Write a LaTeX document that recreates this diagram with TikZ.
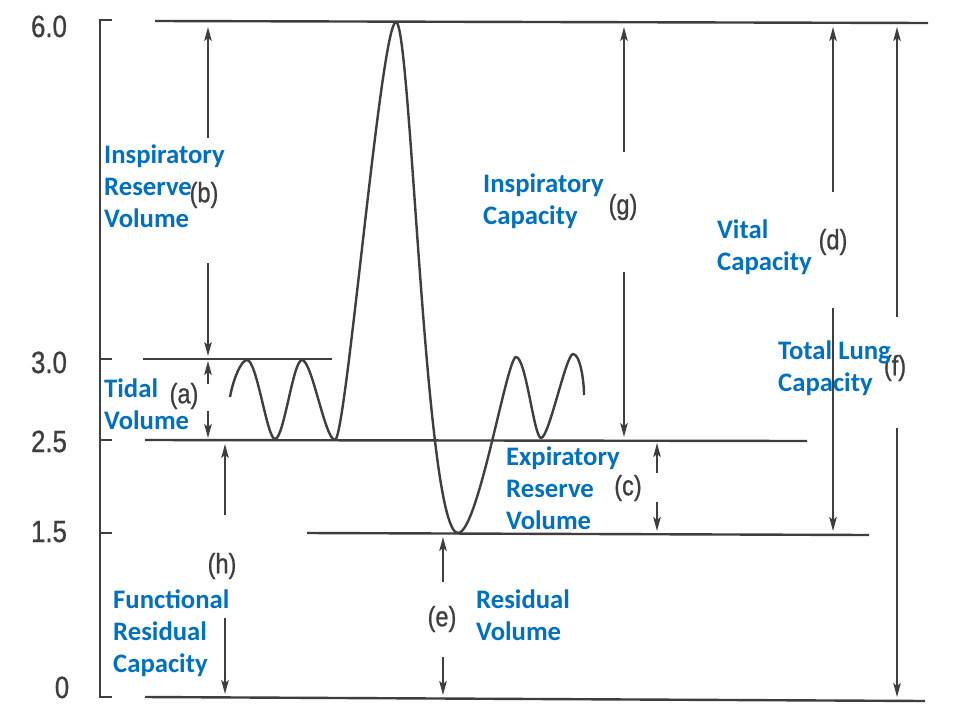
\documentclass[tikz,border=0pt]{standalone}
\usepackage{fontspec}
\newfontfamily\lblfont{Carlito}
\newfontfamily\grayfont{Liberation Sans}[FakeStretch=0.84,FakeBold=0.8]
\usetikzlibrary{arrows.meta}
\definecolor{lblblue}{RGB}{0,112,192}
\definecolor{ink}{RGB}{62,62,62}
\newcommand\mystack[1]{\begin{tabular}[t]{@{}l@{}}#1\end{tabular}}
\begin{document}
\begin{tikzpicture}[x=1pt,y=-1pt,
  curve/.style={draw=ink,line width=2.4pt,line join=round},
  level/.style={draw=ink,line width=2.4pt},
  dim/.style={draw=ink,line width=1.7pt,-{Stealth[length=14pt,width=7.5pt,inset=3pt]}},
  lbl/.style={text=lblblue,font=\lblfont\bfseries\fontsize{26.7}{32}\selectfont,anchor=base west,inner sep=0pt},
  tag/.style={text=ink,font=\grayfont\fontsize{28}{30}\selectfont,inner sep=0pt},
  num/.style={text=ink,font=\grayfont\fontsize{30.7}{32}\selectfont,inner sep=0pt,anchor=base}]
\useasboundingbox[fill=white] (0,0) rectangle (960,720);

% axis with ticks
\draw[level] (112,20) -- (100,20) -- (100,697) -- (112,697);
\draw[level] (100,359) -- (112,359);
\draw[level] (100,440) -- (112,440);
\draw[level] (100,533) -- (112,533);

% axis numbers
\node[num] (n60) at (49,37) {6.0};
\node[num] (n30) at (49,373) {3.0};
\node[num] (n25) at (49,452) {2.5};
\node[num] (n15) at (49,542) {1.5};
\node[num] (n00) at (62,698) {0};

% level lines
\draw[level] (155,21) -- (928,23);
\draw[level] (143,359) -- (332,359);
\draw[level] (145,440) -- (807,441);
\draw[level] (307,533) -- (869,535);
\draw[level] (145,697) -- (925,701);

% spirogram trace
\draw[curve] (230,397) .. controls (233,380) and (241,360) .. (247,360)
  .. controls (257,360) and (267,439) .. (275,439)
  .. controls (284,439) and (293,360) .. (302,360)
  .. controls (312,360) and (325,440) .. (335,440)
  .. controls (346,440) and (381,22) .. (396,22)
  .. controls (411,22) and (425,533) .. (458,533)
  .. controls (478,533) and (507,357) .. (516,357)
  .. controls (526,357) and (534,438) .. (541,438)
  .. controls (549,438) and (566,354) .. (573,354)
  .. controls (580,354) and (584,380) .. (584,395);

% dimension arrow end points
\coordinate (bs1) at (208,138); \coordinate (bt1) at (208,27);
\coordinate (bs2) at (208,263); \coordinate (bt2) at (208,356);
\coordinate (as1) at (208,384); \coordinate (at1) at (208,361);
\coordinate (as2) at (208,411); \coordinate (at2) at (208,438);
\coordinate (hs1) at (225,515); \coordinate (ht1) at (225,444);
\coordinate (hs2) at (225,618); \coordinate (ht2) at (225,694);
\coordinate (es1) at (443,582); \coordinate (et1) at (443,537);
\coordinate (es2) at (443,657); \coordinate (et2) at (443,695);
\coordinate (gs1) at (624,152); \coordinate (gt1) at (624,27);
\coordinate (gs2) at (624,272); \coordinate (gt2) at (624,437);
\coordinate (cs1) at (657,473); \coordinate (ct1) at (657,443);
\coordinate (cs2) at (657,502); \coordinate (ct2) at (657,531);
\coordinate (ds1) at (833,192); \coordinate (dt1) at (833,27);
\coordinate (ds2) at (833,308); \coordinate (dt2) at (833,531);
\coordinate (fs1) at (897,317); \coordinate (ft1) at (897,27);
\coordinate (fs2) at (897,428); \coordinate (ft2) at (897,697);

\foreach \k in {b,a,h,e,g,c,d,f}{
  \draw[dim] (\k s1) -- (\k t1);
  \draw[dim] (\k s2) -- (\k t2);
}

% letter tags
\node[tag] (ta) at (184,396) {(a)};
\node[tag] (tb) at (204,195) {(b)};
\node[tag] (tc) at (628,488) {(c)};
\node[tag] (td) at (833,242) {(d)};
\node[tag] (te) at (442,619) {(e)};
\node[tag] (tf) at (895,368) {(f)};
\node[tag] (tg) at (623,207) {(g)};
\node[tag] (th) at (222,566) {(h)};

% blue labels
\node[lbl] (irv) at (104,163) {\mystack{Inspiratory\\Reserve\\Volume}};
\node[lbl] (tv)  at (104,397) {\mystack{Tidal\\Volume}};
\node[lbl] (frc) at (113,608) {\mystack{Functional\\Residual\\Capacity}};
\node[lbl] (ic)  at (483,192) {\mystack{Inspiratory\\Capacity}};
\node[lbl] (vc)  at (717,238) {\mystack{Vital\\Capacity}};
\node[lbl] (tlc) at (778,359) {\mystack{Total Lung\\Capacity}};
\node[lbl] (erv) at (506,465) {\mystack{Expiratory\\Reserve\\Volume}};
\node[lbl] (rv)  at (476,608) {\mystack{Residual\\Volume}};
\end{tikzpicture}
\end{document}
